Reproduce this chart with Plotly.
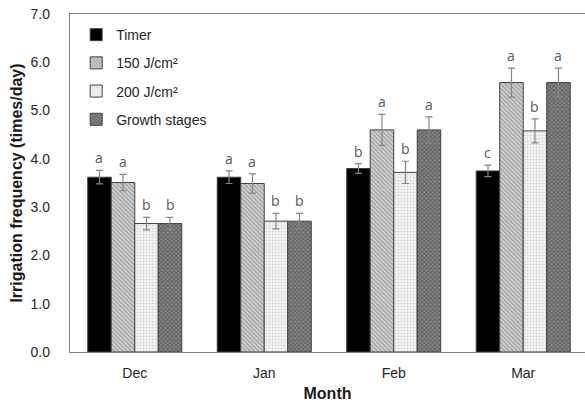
import plotly.graph_objects as go

# Monthly irrigation frequency under four scheduling treatments
months = ["Dec", "Jan", "Feb", "Mar"]
series_names = ["Timer", "150 J/cm²", "200 J/cm²", "Growth stages"]

timer = [3.62, 3.62, 3.80, 3.75]
j150 = [3.51, 3.49, 4.60, 5.58]
j200 = [2.66, 2.71, 3.72, 4.58]
growth = [2.66, 2.71, 4.60, 5.58]

timer_err = [0.14, 0.13, 0.10, 0.12]
j150_err = [0.17, 0.20, 0.32, 0.30]
j200_err = [0.13, 0.16, 0.23, 0.25]
growth_err = [0.13, 0.16, 0.27, 0.30]

timer_sig = ["a", "a", "b", "c"]
j150_sig = ["a", "a", "a", "a"]
j200_sig = ["b", "b", "b", "b"]
growth_sig = ["b", "b", "a", "a"]

values = [timer, j150, j200, growth]
errors = [timer_err, j150_err, j200_err, growth_err]
letters = [timer_sig, j150_sig, j200_sig, growth_sig]

patterns = [
    dict(shape="", fgcolor="#000000", bgcolor="#000000"),
    dict(shape="\\", fgcolor="#6a6a6a", bgcolor="#d8d8d8", size=3, solidity=0.5),
    dict(shape=".", fgcolor="#b0b0b0", bgcolor="#f7f7f7", size=3, solidity=0.35),
    dict(shape="x", fgcolor="#2e2e2e", bgcolor="#8a8a8a", size=3, solidity=0.5),
]
bar_colors = ["#000000", "#c0c0c0", "#efefef", "#5a5a5a"]

fig = go.Figure()
for k in range(4):
    fig.add_trace(go.Bar(
        x=months, y=values[k], name=series_names[k],
        legendgroup=series_names[k],
        marker=dict(color=bar_colors[k], pattern=patterns[k],
                    line=dict(color="#404040", width=1)),
        error_y=dict(type="data", array=errors[k], visible=True,
                     color="#858585", thickness=1.2, width=3.5),
    ))

bargap = 0.274
slot = (1 - bargap) / 4
annotations = []
for k in range(4):
    for i in range(len(months)):
        annotations.append(dict(
            x=i + (k - 1.5) * slot, y=values[k][i] + errors[k][i],
            xref="x", yref="y", text=letters[k][i], showarrow=False,
            yanchor="bottom", yshift=1,
            font=dict(family="Open Sans, Arial, sans-serif", size=14, color="#595959"),
        ))

fig.update_layout(
    width=585, height=404,
    margin=dict(l=70, r=0, t=14, b=52),
    paper_bgcolor="white", plot_bgcolor="white",
    barmode="group", bargap=bargap, bargroupgap=0,
    font=dict(family="Liberation Sans, Arial, sans-serif", size=14, color="#262626"),
    showlegend=True,
    legend=dict(x=0.012, y=0.985, xanchor="left", yanchor="top",
                bgcolor="rgba(0,0,0,0)", traceorder="grouped",
                tracegroupgap=7, itemwidth=30,
                font=dict(size=14, color="#262626")),
    annotations=annotations,
)
fig.update_xaxes(
    range=[-0.5, 3.477], showline=True, linecolor="#7f7f7f", linewidth=1.3,
    mirror=True, ticks="", showgrid=False, ticklabelstandoff=8,
    title=dict(text="<b>Month</b>", standoff=7, font=dict(size=16, color="#1a1a1a")),
)
fig.update_yaxes(
    range=[0, 7], dtick=1, tickformat=".1f", showline=True, linecolor="#7f7f7f",
    linewidth=1.3, mirror=True, ticks="", showgrid=False, zeroline=False,
    ticklabelstandoff=16,
    title=dict(text="<b>Irrigation frequency (times/day)</b>", standoff=3,
               font=dict(size=16, color="#1a1a1a")),
)

fig.write_html("out.html")
